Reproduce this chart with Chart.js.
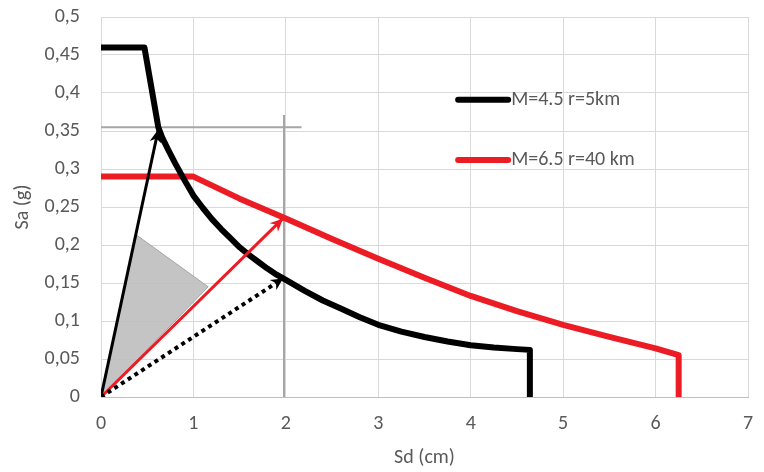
<!DOCTYPE html>
<html>
<head>
<meta charset="utf-8">
<script src="https://cdn.jsdelivr.net/npm/chart.js@4.4.0/dist/chart.umd.min.js"></script>
<style>
  html, body { margin: 0; padding: 0; background: #fff; }
  #wrap { width: 764px; height: 472px; }
</style>
</head>
<body>
<div id="wrap"><canvas id="spectrum"></canvas></div>
<script>
/* =========================
   DATA
========================= */

// M=4.5 r=5km spectrum (Sd in cm, Sa in g)
const blackSd = [0, 0.47, 0.62, 0.66, 0.72, 0.8, 0.9, 1, 1.1, 1.2, 1.3, 1.4, 1.5, 1.6, 1.7, 1.8, 1.9, 2,
  2.2, 2.4, 2.6, 2.8, 3, 3.25, 3.5, 3.75, 4, 4.25, 4.5, 4.64, 4.64];
const blackSa = [0.46, 0.46, 0.355, 0.342, 0.327, 0.308, 0.286, 0.265, 0.249, 0.234, 0.221, 0.209, 0.197, 0.187, 0.178, 0.169, 0.161, 0.154,
  0.14, 0.127, 0.116, 0.105, 0.095, 0.086, 0.079, 0.073, 0.068, 0.065, 0.063, 0.062, 0];

// M=6.5 r=40 km spectrum
const redSd = [0, 1, 1.5, 2, 2.5, 3, 3.5, 4, 4.5, 5, 5.5, 6, 6.25, 6.25];
const redSa = [0.29, 0.29, 0.261, 0.235, 0.208, 0.182, 0.157, 0.133, 0.113, 0.095, 0.079, 0.064, 0.055, 0];

// reference lines
const refHSd = [0, 2.17];
const refHSa = [0.355, 0.355];
const refVSd = [1.98, 1.98];
const refVSa = [0.371, 0];

// arrows from origin
const arrowBlackSd = [0, 0.62];
const arrowBlackSa = [0, 0.352];
const arrowRedSd = [0, 1.97];
const arrowRedSa = [0, 0.235];
const arrowDotSd = [0, 1.97];
const arrowDotSa = [0, 0.156];

// shaded triangle
const triSd = [0, 0.385, 1.16, 0];
const triSa = [0, 0.213, 0.145, 0];

const legendLabels = ["M=4.5 r=5km", "M=6.5 r=40 km"];
const xTicks = [0, 1, 2, 3, 4, 5, 6, 7];

const pts = (xs, ys) => xs.map((x, i) => ({ x: x, y: ys[i] }));

const FONT = 'Carlito, "Open Sans", sans-serif';
const TEXT = "#595959";
const RED = "#ec1c24";

/* =========================
   ARROW HEADS + LEGEND
========================= */

const arrowHeads = {
  id: "arrowHeads",
  afterDatasetsDraw(chart) {
    const ctx = chart.ctx;
    chart.data.datasets.forEach((ds, i) => {
      if (!ds.arrow) return;
      const meta = chart.getDatasetMeta(i);
      const n = meta.data.length;
      const a = meta.data[n - 2];
      const b = meta.data[n - 1];
      const ang = Math.atan2(b.y - a.y, b.x - a.x);
      const len = ds.arrow.len;
      const w = ds.arrow.width;
      const c = Math.cos(ang);
      const s = Math.sin(ang);
      ctx.save();
      ctx.fillStyle = ds.borderColor;
      ctx.beginPath();
      ctx.moveTo(b.x, b.y);
      ctx.lineTo(b.x - len * c + w * s, b.y - len * s - w * c);
      ctx.lineTo(b.x - len * 0.7 * c, b.y - len * 0.7 * s);
      ctx.lineTo(b.x - len * c - w * s, b.y - len * s + w * c);
      ctx.closePath();
      ctx.fill();
      ctx.restore();
    });
  },
};

const insideLegend = {
  id: "insideLegend",
  afterDraw(chart) {
    const ctx = chart.ctx;
    const area = chart.chartArea;
    const h = area.bottom - area.top;
    const x0 = area.left + (area.right - area.left) * 0.552;
    const rows = [
      { color: "#000", y: area.top + h * 0.218 },
      { color: RED, y: area.top + h * 0.376 },
    ];
    ctx.save();
    rows.forEach((r, i) => {
      ctx.strokeStyle = r.color;
      ctx.lineWidth = 6;
      ctx.lineCap = "round";
      ctx.beginPath();
      ctx.moveTo(x0, r.y);
      ctx.lineTo(x0 + 50, r.y);
      ctx.stroke();
      ctx.fillStyle = TEXT;
      ctx.font = "20px " + FONT;
      ctx.textBaseline = "middle";
      ctx.fillText(legendLabels[i], x0 + 53, r.y);
    });
    ctx.restore();
  },
};

/* =========================
   CHART
========================= */

const line = (data, color, width, extra) =>
  Object.assign(
    {
      data: data,
      showLine: true,
      borderColor: color,
      backgroundColor: color,
      borderWidth: width,
      pointRadius: 0,
      tension: 0,
      fill: false,
    },
    extra || {}
  );

new Chart(document.getElementById("spectrum"), {
  type: "scatter",
  data: {
    datasets: [
      line(pts(arrowDotSd, arrowDotSa), "#000", 4, { borderDash: [4, 4], arrow: { len: 12, width: 6 }, order: 1 }),
      line(pts(arrowRedSd, arrowRedSa), RED, 3, { arrow: { len: 13, width: 6 }, order: 1 }),
      line(pts(arrowBlackSd, arrowBlackSa), "#000", 3, { arrow: { len: 13, width: 6 }, order: 1 }),
      line(pts(blackSd, blackSa), "#000", 6, { borderJoinStyle: "round", order: 2 }),
      line(pts(redSd, redSa), RED, 6, { borderJoinStyle: "round", order: 2 }),
      line(pts(refHSd, refHSa), "#a6a6a6", 2, { order: 3 }),
      line(pts(refVSd, refVSa), "#a6a6a6", 2, { order: 3 }),
      line(pts(triSd, triSa), "#a6a6a6", 1, { backgroundColor: "rgba(190,190,190,0.9)", fill: "shape", order: 4 }),
    ],
  },
  options: {
    responsive: true,
    maintainAspectRatio: false,
    animation: false,
    layout: { padding: { top: 17, right: 16, left: 0, bottom: 0 } },
    plugins: {
      legend: { display: false },
      tooltip: { enabled: false },
    },
    scales: {
      x: {
        type: "linear",
        min: 0,
        max: 7,
        afterBuildTicks: (scale) => {
          scale.ticks = xTicks.map((v) => ({ value: v }));
        },
        afterFit: (scale) => {
          scale.height = 75;
          scale.paddingLeft = 0;
          scale.paddingRight = 0;
        },
        grid: { color: "#d9d9d9", drawTicks: false },
        border: { color: "#bfbfbf" },
        ticks: { color: TEXT, font: { family: FONT, size: 20 }, padding: 15 },
        title: {
          display: true,
          text: "Sd (cm)",
          color: TEXT,
          font: { family: FONT, size: 20 },
          padding: { top: 0, bottom: 2 },
        },
      },
      y: {
        type: "linear",
        min: 0,
        max: 0.5,
        afterFit: (scale) => {
          scale.width = 101;
          scale.paddingTop = 0;
          scale.paddingBottom = 0;
        },
        grid: { color: "#d9d9d9", drawTicks: false },
        border: { color: "#d9d9d9" },
        ticks: {
          stepSize: 0.05,
          color: TEXT,
          font: { family: FONT, size: 20 },
          padding: 21,
          callback: (v) => String(Math.round(v * 100) / 100).replace(".", ","),
        },
        title: {
          display: true,
          text: "Sa (g)",
          color: TEXT,
          font: { family: FONT, size: 20 },
          padding: { top: 11, bottom: 0 },
        },
      },
    },
  },
  plugins: [arrowHeads, insideLegend],
});
</script>
</body>
</html>
